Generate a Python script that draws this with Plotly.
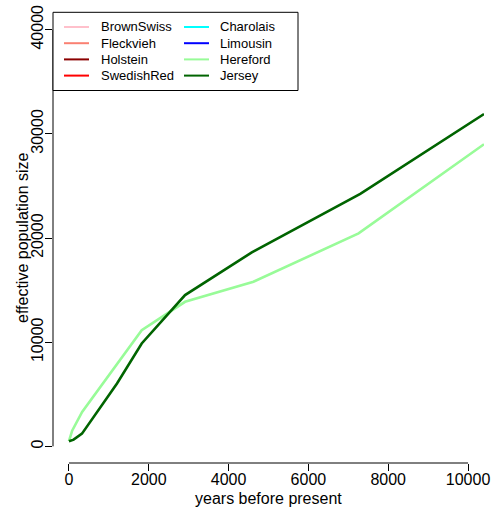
import plotly.graph_objects as go

# Breeds shown in the legend (two columns, as in the reference legend)
breeds = ["BrownSwiss", "Fleckvieh", "Holstein", "SwedishRed",
          "Charolais", "Limousin", "Hereford", "Jersey"]
breed_colors = {
    "BrownSwiss": "#FFC0CB", "Fleckvieh": "#FA8072", "Holstein": "#8B0000",
    "SwedishRed": "#FF0000", "Charolais": "#00FFFF", "Limousin": "#0000FF",
    "Hereford": "#98FB98", "Jersey": "#006400",
}

# Visible series (years before present, effective population size)
jersey_years = [0, 117, 326, 619, 911, 1204, 1823, 2909, 4582, 7299, 10400]
jersey_ne = [480, 640, 1220, 2820, 4420, 6030, 9875, 14519, 18625, 24230, 31900]

hereford_years = [0, 80, 330, 694, 1823, 2909, 4623, 7257, 10400]
hereford_ne = [500, 1500, 3300, 5220, 11150, 13875, 15800, 20450, 29000]

series = {
    "Hereford": (hereford_years, hereford_ne),
    "Jersey": (jersey_years, jersey_ne),
}

x_ticks = [0, 2000, 4000, 6000, 8000, 10000]
y_ticks = [0, 10000, 20000, 30000, 40000]

x_title = "years before present"
y_title = "effective population size"

FONT = "Liberation Sans, Arial, Helvetica, sans-serif"

W, H = 492, 510
ML, MR, MT, MB = 53, 8, 13, 47
PW, PH = W - ML - MR, H - MT - MB


def px(xp):
    return (xp - ML) / PW


def py(yp):
    return (H - MB - yp) / PH


fig = go.Figure()

for b in breeds:
    if b not in series:
        continue
    xs, ys = series[b]
    fig.add_trace(go.Scatter(
        x=xs, y=ys, mode="lines", name=b,
        line=dict(color=breed_colors[b], width=2.6),
        showlegend=False,
    ))

shapes = []
annotations = []

# R-style axis lines spanning first to last tick only
shapes.append(dict(type="line", xref="x", yref="paper", x0=x_ticks[0], x1=x_ticks[-1],
                   y0=0, y1=0, line=dict(color="black", width=1)))
shapes.append(dict(type="line", xref="paper", yref="y", x0=0, x1=0,
                   y0=y_ticks[0], y1=y_ticks[-1], line=dict(color="black", width=1)))

# legend box (top-left of plot region), two columns of four entries
shapes.append(dict(type="rect", xref="paper", yref="paper",
                   x0=px(53), x1=px(298), y0=py(90.5), y1=py(12.3),
                   line=dict(color="black", width=1), fillcolor="white", layer="above"))
row_y = [27.0, 43.2, 59.4, 75.6]
col_line_x = [(64, 89), (184, 209)]
col_text_x = [99, 218]
for i, b in enumerate(breeds):
    c, r = divmod(i, 4)
    yy = py(row_y[r])
    shapes.append(dict(type="line", xref="paper", yref="paper",
                       x0=px(col_line_x[c][0]), x1=px(col_line_x[c][1]), y0=yy, y1=yy,
                       line=dict(color=breed_colors[b], width=2), layer="above"))
    annotations.append(dict(text=b, xref="paper", yref="paper", x=px(col_text_x[c]), y=yy,
                            xanchor="left", yanchor="middle", showarrow=False,
                            font=dict(family=FONT, size=13, color="black")))

# axis titles
annotations.append(dict(text=x_title, xref="paper", yref="paper", x=0.5, y=0,
                        xanchor="center", yanchor="middle", yshift=-35, showarrow=False,
                        font=dict(family=FONT, size=16, color="black")))
annotations.append(dict(text=y_title, xref="paper", yref="paper", x=0, y=0.5,
                        xanchor="center", yanchor="middle", xshift=-31, textangle=-90,
                        showarrow=False, font=dict(family=FONT, size=16, color="black")))

fig.update_layout(
    width=W, height=H,
    margin=dict(l=ML, r=MR, t=MT, b=MB, autoexpand=False),
    paper_bgcolor="white", plot_bgcolor="white",
    font=dict(family=FONT, size=16, color="black"),
    showlegend=False,
    shapes=shapes, annotations=annotations,
    xaxis=dict(
        range=[-400, 10400], tickvals=x_ticks, ticktext=[str(v) for v in x_ticks],
        ticks="outside", ticklen=7, tickcolor="black", showgrid=False,
        zeroline=False, showline=False, automargin=False, ticklabelstandoff=-5,
    ),
    yaxis=dict(
        range=[-1600, 41600], tickvals=y_ticks, ticktext=[str(v) for v in y_ticks],
        ticks="outside", ticklen=7, tickcolor="black", showgrid=False,
        zeroline=False, showline=False, tickangle=-90, automargin=False,
        ticklabelstandoff=-4,
    ),
)

fig.write_html("out.html")
